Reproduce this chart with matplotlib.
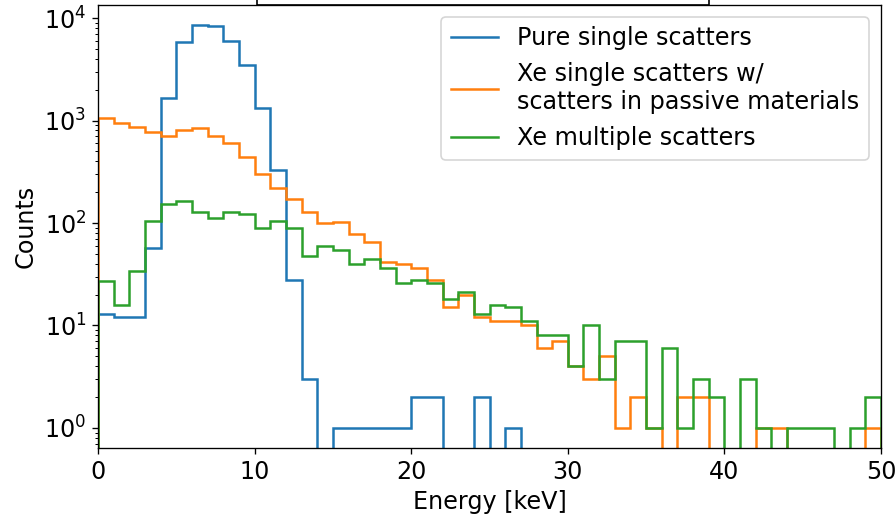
import numpy as np
import matplotlib
matplotlib.use("Agg")
import matplotlib.pyplot as plt
from matplotlib.patches import Rectangle
from matplotlib.lines import Line2D

# 1 keV bins from 0 to 50 keV
edges = np.arange(0, 51, 1)
centers = edges[:-1] + 0.5

pure_single = [13, 12, 12, 57, 1650, 5900, 8600, 8400, 6000, 3500,
               1320, 330, 28, 3, 0, 1, 1, 1, 1, 1,
               2, 2, 0, 0, 2, 0, 1, 0, 0, 0,
               0, 0, 0, 0, 0, 0, 0, 0, 0, 0,
               0, 0, 0, 0, 0, 0, 0, 0, 0, 0]

xe_single_passive = [1050, 940, 860, 780, 710, 810, 850, 710, 600, 443,
                     301, 218, 171, 127, 99, 102, 78, 66, 42, 40,
                     36, 28, 15, 20, 12, 11, 11, 10, 6, 7,
                     4, 3, 5, 1, 2, 1, 0, 2, 2, 0,
                     0, 0, 1, 1, 0, 0, 0, 0, 0, 1]

xe_multiple = [27, 16, 34, 105, 152, 165, 129, 113, 127, 122,
               90, 104, 90, 48, 60, 55, 40, 45, 36, 26,
               28, 26, 18, 21, 13, 16, 15, 11, 8, 8,
               4, 10, 3, 7, 7, 1, 6, 1, 3, 2,
               0, 3, 1, 0, 1, 1, 1, 0, 1, 2]

labels = ["Pure single scatters",
          "Xe single scatters w/\nscatters in passive materials",
          "Xe multiple scatters"]
colors = ["C0", "C1", "C2"]

plt.rcParams['font.size'] = 14.3

fig, ax = plt.subplots(figsize=(896 / 120, 522 / 120), dpi=120)
fig.subplots_adjust(left=0.1094, right=0.9833, top=0.9904, bottom=0.1418)

for counts, c in zip([pure_single, xe_single_passive, xe_multiple], colors):
    ax.hist(centers, bins=edges, weights=counts, histtype='step',
            log=True, linewidth=1.5, color=c)

ax.set_xlim(0, 50)
ax.set_ylim(0.638, 13400)
ax.set_xlabel("Energy [keV]")
ax.set_ylabel("Counts")

handles = [Line2D([], [], color=c, linewidth=1.5) for c in colors]
ax.legend(handles, labels, loc='upper right')

# box cut off at the top edge of the figure
fig.patches.append(Rectangle((257 / 896, 1 - 5 / 522), (709 - 257) / 896, 0.05,
                             transform=fig.transFigure, fill=False,
                             edgecolor='black', linewidth=1.0))

fig.savefig("out.png", dpi=120)
